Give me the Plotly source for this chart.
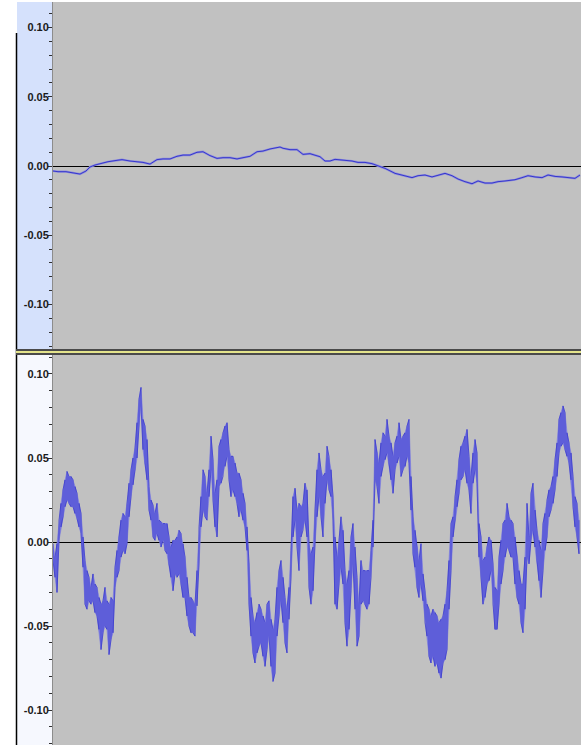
import numpy as np
import plotly.graph_objects as go

W, H = 581, 745

# ---- upper track: quiet signal (time in columns, amplitude) ----
top_t = [0, 5, 13, 21, 27, 33, 37, 42, 47, 55, 64, 69, 77, 85, 90, 97, 104, 110, 117, 124,
         130, 137, 144, 150, 157, 164, 170, 177, 184, 190, 197, 204, 210, 217, 224, 227, 230,
         237, 244, 250, 257, 264, 267, 272, 277, 282, 287, 292, 299, 305, 312, 319, 325, 332,
         342, 352, 359, 365, 372, 379, 385, 392, 399, 405, 412, 419, 425, 432, 439, 445, 452,
         462, 469, 475, 482, 489, 495, 502, 509, 515, 522, 527]
top_v = [-0.0036, -0.0041, -0.0041, -0.0048, -0.0058, -0.0036, -0.0007, 0.0007, 0.0017, 0.0031,
         0.0041, 0.0046, 0.0036, 0.0031, 0.0026, 0.0014, 0.0046, 0.0051, 0.0051, 0.0070,
         0.0079, 0.0079, 0.0099, 0.0103, 0.0075, 0.0055, 0.0060, 0.0060, 0.0051, 0.0060,
         0.0070, 0.0103, 0.0108, 0.0123, 0.0132, 0.0137, 0.0128, 0.0118, 0.0118, 0.0084,
         0.0089, 0.0075, 0.0067, 0.0036, 0.0036, 0.0048, 0.0046, 0.0041, 0.0036, 0.0026,
         0.0026, 0.0017, 0.0000, -0.0017, -0.0053, -0.0072, -0.0084, -0.0070, -0.0065,
         -0.0079, -0.0065, -0.0053, -0.0070, -0.0094, -0.0113, -0.0128, -0.0108, -0.0123,
         -0.0123, -0.0113, -0.0108, -0.0099, -0.0084, -0.0070, -0.0079, -0.0084, -0.0065,
         -0.0075, -0.0079, -0.0084, -0.0089, -0.0065]

# ---- lower track: per-bin max / min, four quarters of the clip ----
hi_1 = [-0.001, -0.009, -0.001, 0.013, 0.023, 0.031, 0.037, 0.042, 0.039, 0.039, 0.037, 0.033,
        0.029, 0.023, 0.017, 0.003, -0.011, -0.017, -0.021, -0.027, -0.019, -0.025, -0.027,
        -0.033, -0.037, -0.035, -0.027, -0.035, -0.037, -0.033, -0.035, -0.015, -0.005, 0.003,
        0.013, 0.017, 0.015, 0.023, 0.035, 0.043, 0.050, 0.056, 0.071, 0.085, 0.092, 0.073,
        0.069, 0.061, 0.033, 0.025, 0.022, 0.017, 0.023, 0.013, 0.012, 0.011, 0.011, 0.011,
        0.003, -0.003, 0.001, 0.001, 0.003, 0.007, 0.005, -0.001]
lo_1 = [-0.011, -0.021, -0.030, 0.001, 0.009, 0.015, 0.021, 0.025, 0.023, 0.021, 0.021, 0.017,
        0.014, 0.009, 0.005, -0.015, -0.037, -0.040, -0.035, -0.037, -0.035, -0.042, -0.044,
        -0.052, -0.064, -0.054, -0.050, -0.052, -0.067, -0.058, -0.054, -0.027, -0.021, -0.017,
        -0.009, -0.005, -0.007, -0.001, 0.015, 0.027, 0.034, 0.043, 0.050, 0.069, 0.081, 0.055,
        0.047, 0.037, 0.019, 0.013, 0.003, 0.001, 0.005, 0.001, -0.003, 0.001, -0.005, -0.007,
        -0.013, -0.021, -0.029, -0.019, -0.021, -0.019, -0.025, -0.033]

hi_2 = [-0.009, -0.021, -0.033, -0.033, -0.035, -0.037, -0.017, 0.009, 0.027, 0.043, 0.039,
        0.029, 0.043, 0.063, 0.049, 0.029, 0.037, 0.057, 0.061, 0.065, 0.069, 0.071, 0.055,
        0.051, 0.051, 0.047, 0.041, 0.041, 0.037, 0.029, 0.023, 0.009, -0.013, -0.033, -0.044,
        -0.048, -0.042, -0.037, -0.040, -0.044, -0.048, -0.037, -0.035, -0.046, -0.052, -0.046,
        -0.027, -0.017, -0.011, -0.021, -0.033, -0.040, -0.027, -0.005, 0.027, 0.032, 0.019,
        0.023, 0.021, 0.023, 0.035, 0.031, -0.001, -0.007, -0.003]
lo_2 = [-0.033, -0.044, -0.050, -0.054, -0.054, -0.056, -0.038, -0.013, 0.009, 0.019, 0.015,
        0.013, 0.027, 0.043, 0.025, 0.009, 0.003, 0.033, 0.035, 0.039, 0.045, 0.051, 0.037,
        0.027, 0.031, 0.027, 0.023, 0.015, 0.019, 0.013, 0.009, -0.005, -0.037, -0.056, -0.066,
        -0.072, -0.066, -0.062, -0.060, -0.068, -0.074, -0.064, -0.056, -0.074, -0.083, -0.078,
        -0.056, -0.044, -0.035, -0.048, -0.060, -0.066, -0.046, -0.021, 0.003, 0.013, -0.003,
        -0.017, 0.003, 0.007, 0.013, 0.003, -0.027, -0.037, -0.029]

hi_3 = [0.019, 0.043, 0.053, 0.043, 0.039, 0.041, 0.057, 0.051, 0.043, 0.027, 0.003, -0.009,
        0.001, 0.015, 0.007, -0.017, -0.025, -0.017, 0.003, 0.011, -0.003, -0.021, -0.037,
        -0.011, -0.017, -0.017, -0.017, -0.017, -0.005, 0.013, 0.061, 0.053, 0.047, 0.059,
        0.065, 0.063, 0.073, 0.063, 0.059, 0.051, 0.059, 0.063, 0.071, 0.061, 0.063, 0.065,
        0.069, 0.073, 0.039, 0.015, 0.007, -0.003, -0.011, -0.001, -0.019, -0.029, -0.037,
        -0.040, -0.044, -0.040, -0.042, -0.044, -0.048, -0.046, -0.044]
lo_3 = [-0.001, 0.015, 0.027, 0.015, 0.003, 0.023, 0.037, 0.031, 0.027, 0.013, -0.037, -0.040,
        -0.025, -0.015, -0.025, -0.048, -0.062, -0.052, -0.029, -0.013, -0.040, -0.062, -0.056,
        -0.037, -0.035, -0.037, -0.040, -0.037, -0.021, -0.003, 0.037, 0.033, 0.023, 0.039,
        0.045, 0.049, 0.053, 0.047, 0.037, 0.029, 0.043, 0.047, 0.051, 0.039, 0.043, 0.045,
        0.051, 0.047, 0.019, -0.007, -0.015, -0.027, -0.033, -0.025, -0.035, -0.048, -0.056,
        -0.068, -0.072, -0.068, -0.074, -0.072, -0.078, -0.081, -0.072]

hi_4 = [-0.037, -0.029, -0.011, 0.011, 0.015, 0.027, 0.037, 0.049, 0.057, 0.059, 0.063, 0.067,
        0.051, 0.039, 0.053, 0.061, 0.053, 0.011, 0.003, -0.011, -0.009, -0.003, 0.003, 0.001,
        -0.013, -0.027, -0.029, -0.009, 0.001, 0.011, 0.013, 0.023, 0.015, 0.013, 0.011, 0.003,
        -0.009, -0.017, -0.025, -0.025, -0.009, 0.023, 0.003, 0.029, 0.035, 0.019, 0.007,
        0.001, -0.005, 0.011, 0.017, 0.025, 0.031, 0.033, 0.039, 0.049, 0.059, 0.073, 0.077,
        0.081, 0.077, 0.065, 0.059, 0.053, 0.039, 0.027, 0.023, 0.013]
lo_4 = [-0.070, -0.064, -0.040, -0.017, 0.003, 0.013, 0.021, 0.029, 0.037, 0.039, 0.043, 0.035,
        0.031, 0.017, 0.035, 0.043, 0.035, -0.009, -0.021, -0.037, -0.033, -0.025, -0.023,
        -0.017, -0.037, -0.052, -0.052, -0.037, -0.025, -0.017, -0.009, -0.003, -0.005, -0.009,
        -0.009, -0.025, -0.033, -0.037, -0.048, -0.054, -0.040, -0.009, -0.013, 0.001, 0.007,
        -0.003, -0.011, -0.023, -0.033, -0.017, -0.005, 0.003, 0.015, 0.019, 0.023, 0.031,
        0.039, 0.053, 0.057, 0.059, 0.055, 0.051, 0.047, 0.037, 0.021, 0.009, 0.003, -0.007]

amp_ticks = [-0.10, -0.05, 0.00, 0.05, 0.10]
amp_labels = ["-0.10", "-0.05", "0.00", "0.05", "0.10"]

BIN = 2  # columns per min/max bin
hi = np.array(hi_1 + hi_2 + hi_3 + hi_4)
lo = np.array(lo_1 + lo_2 + lo_3 + lo_4)
bx = np.arange(len(hi)) * BIN

WAVE_DARK = "#3636cc"
WAVE_LIGHT = "#7474e0"
TRACK_BG = "#c1c1c1"


def pxx(p):
    return p / W


def pxy(p):
    return 1 - p / H


fig = go.Figure()

# upper track line
fig.add_trace(go.Scatter(x=top_t, y=top_v, mode="lines", xaxis="x", yaxis="y",
                         line=dict(color="#9090dc", width=2.2), hoverinfo="skip"))
fig.add_trace(go.Scatter(x=top_t, y=top_v, mode="lines", xaxis="x", yaxis="y",
                         line=dict(color=WAVE_DARK, width=1), hoverinfo="skip"))

# lower track: min/max envelope band
fig.add_trace(go.Scatter(x=np.concatenate([bx, bx[::-1]]),
                         y=np.concatenate([hi, lo[::-1]]),
                         fill="toself", fillcolor=WAVE_LIGHT, mode="lines",
                         line=dict(color=WAVE_LIGHT, width=0.6),
                         xaxis="x2", yaxis="y2", hoverinfo="skip"))
# vertical sample strokes inside the band
zx, zy = [], []
for i in range(len(hi)):
    a, b = (hi[i], lo[i]) if i % 2 == 0 else (lo[i], hi[i])
    zx += [bx[i], bx[i]]
    zy += [a, b]
fig.add_trace(go.Scatter(x=zx, y=zy, mode="lines", xaxis="x2", yaxis="y2",
                         line=dict(color=WAVE_DARK, width=0.7), hoverinfo="skip"))

yaxis_common = dict(
    tickmode="array", tickvals=amp_ticks, ticktext=amp_labels,
    ticks="outside", ticklen=4, tickcolor="#303030", tickwidth=1,
    ticklabelstandoff=-3,
    tickfont=dict(family="Liberation Sans, Arial", size=11, color="#1a1a1a", weight="bold"),
    showline=True, linecolor="#8c8c8c", linewidth=1,
    showgrid=False, zeroline=True, zerolinecolor="#000000", zerolinewidth=1,
    minor=dict(ticks="outside", ticklen=3, tickcolor="#303030", dtick=0.01, tick0=0,
               showgrid=False),
    fixedrange=True,
)

top_dom = [pxy(349), pxy(2)]
bot_dom = [0, pxy(355)]

fig.update_layout(
    width=W, height=H,
    margin=dict(l=0, r=0, t=0, b=0),
    paper_bgcolor="white",
    plot_bgcolor=TRACK_BG,
    showlegend=False,
    xaxis=dict(domain=[pxx(53), 1], range=[0, 528], visible=False, fixedrange=True),
    xaxis2=dict(domain=[pxx(53), 1], range=[0, 528], visible=False, fixedrange=True,
                anchor="y2"),
    yaxis=dict(domain=top_dom, range=[-0.1321, 0.1184], anchor="x", **yaxis_common),
    yaxis2=dict(domain=bot_dom, range=[-0.1208, 0.1113], anchor="x2", **yaxis_common),
)

shapes = [
    # vertical ruler panels
    dict(type="rect", xref="paper", yref="paper", x0=pxx(17), x1=pxx(53),
         y0=pxy(349), y1=pxy(2), fillcolor="#d5e1fc", line_width=0, layer="below"),
    dict(type="rect", xref="paper", yref="paper", x0=pxx(17), x1=pxx(53),
         y0=pxy(745), y1=pxy(355), fillcolor="#f6f8fe", line_width=0, layer="below"),
    # track background (lower)
    dict(type="rect", xref="paper", yref="paper", x0=pxx(53), x1=1,
         y0=pxy(745), y1=pxy(355), fillcolor=TRACK_BG, line_width=0, layer="below"),
    # left border
    dict(type="line", xref="paper", yref="paper", x0=pxx(16.5), x1=pxx(16.5),
         y0=pxy(33), y1=0, line=dict(color="#000000", width=1.5)),
    # track separator
    dict(type="rect", xref="paper", yref="paper", x0=pxx(16), x1=1,
         y0=pxy(355), y1=pxy(349), fillcolor="#4a4a4a", line_width=0),
    dict(type="rect", xref="paper", yref="paper", x0=pxx(16), x1=1,
         y0=pxy(353), y1=pxy(351), fillcolor="#e4e48c", line_width=0),
]
fig.update_layout(shapes=shapes)

fig.write_html("out.html")
